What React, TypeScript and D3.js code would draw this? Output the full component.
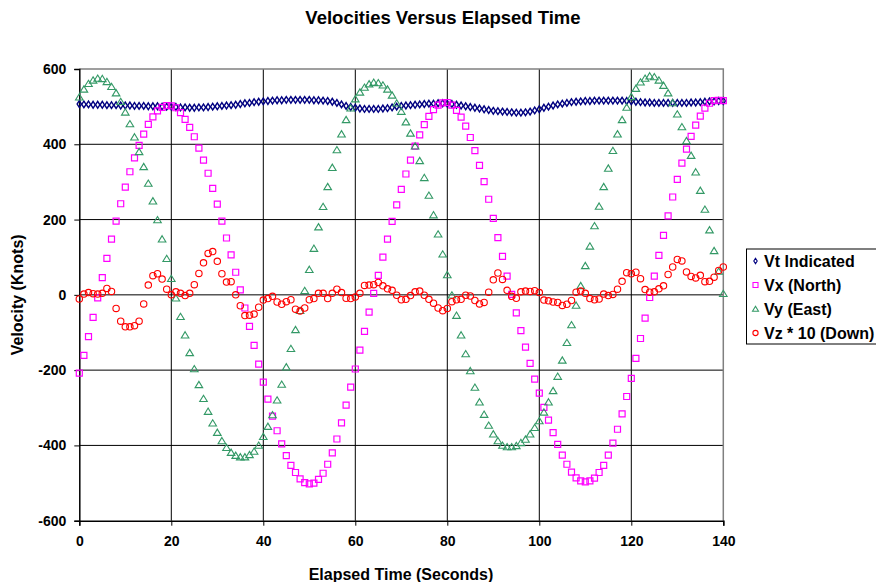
import { useRef, useEffect } from "react";
import * as d3 from "d3";

// elapsed time, one sample per second
const seconds: number[] = d3.range(0, 141);

const vtIndicated: number[] = [
  507, 506, 506, 505, 505, 505, 504, 504, 504, 503, 503,
  503, 502, 502, 502, 501, 501, 501, 500, 500, 500,
  499, 498, 498, 497, 497, 498, 498, 499, 500, 501,
  502, 503, 504, 505, 507, 509, 510, 512, 513, 514,
  515, 516, 517, 517, 518, 518, 518, 518, 518, 518,
  517, 517, 516, 515, 513, 510, 506, 502, 499, 497,
  495, 494, 494, 494, 494, 495, 496, 498, 500, 502,
  503, 504, 505, 506, 507, 508, 508, 509, 509, 508,
  507, 505, 503, 501, 499, 497, 495, 493, 491, 489,
  488, 487, 486, 485, 484, 484, 485, 487, 490, 493,
  497, 500, 503, 506, 508, 510, 512, 513, 514, 515,
  515, 516, 516, 516, 516, 516, 516, 516, 515, 514,
  513, 512, 511, 511, 510, 510, 510, 510, 510, 510,
  510, 510, 511, 511, 512, 513, 514, 514, 515, 515,
];

const vxNorth: number[] = [
  -208, -161, -111, -60, -8, 46, 97, 148, 196, 242,
  286, 327, 364, 397, 427, 453, 473, 489, 498, 503,
  502, 497, 484, 466, 445, 420, 390, 358, 323, 283,
  241, 196, 151, 106, 60, 13, -35, -84, -134, -184,
  -232, -277, -322, -361, -396, -427, -453, -472, -489, -499,
  -502, -500, -490, -474, -450, -420, -383, -340, -293, -245,
  -197, -147, -97, -46, 4, 52, 100, 148, 195, 239,
  280, 321, 358, 395, 425, 452, 474, 492, 504, 510,
  511, 504, 490, 472, 448, 418, 383, 344, 301, 254,
  203, 152, 102, 50, 1, -48, -95, -139, -182, -224,
  -261, -299, -333, -366, -397, -426, -450, -471, -486, -494,
  -497, -494, -487, -472, -453, -426, -394, -357, -316, -270,
  -222, -169, -116, -62, -7, 50, 105, 158, 210, 260,
  307, 350, 387, 421, 451, 475, 496, 509, 516, 517,
  516,
];

const vyEast: number[] = [
  525, 546, 561, 570, 575, 574, 566, 553, 536, 513,
  485, 454, 419, 380, 340, 296, 249, 199, 148, 96,
  43, -9, -58, -107, -154, -197, -239, -276, -310, -341,
  -366, -388, -406, -419, -427, -431, -431, -425, -416, -400,
  -377, -350, -319, -280, -238, -192, -143, -93, -42, 11,
  67, 123, 180, 234, 287, 338, 385, 427, 465, 496,
  520, 538, 551, 560, 564, 563, 557, 546, 530, 509,
  487, 459, 429, 395, 356, 311, 264, 212, 161, 108,
  53, -1, -55, -107, -157, -202, -246, -285, -318, -347,
  -370, -388, -400, -404, -404, -401, -393, -384, -370, -353,
  -335, -312, -285, -255, -217, -174, -127, -80, -28, 24,
  77, 129, 183, 235, 287, 336, 383, 427, 465, 498,
  526, 548, 565, 575, 581, 579, 570, 556, 536, 510,
  480, 446, 409, 370, 326, 277, 227, 172, 117, 62,
  3,
];

const vzDownX10: number[] = [
  -11, 2, 6, 3, 2, 4, 17, 9, -36, -70,
  -85, -85, -82, -70, -24, 26, 51, 56, 42, 15,
  0, 8, 4, -2, 4, 27, 57, 85, 110, 115,
  89, 56, 34, 35, 0, -29, -55, -54, -51, -33,
  -14, -10, -4, -19, -25, -18, -13, -38, -43, -35,
  -13, -10, 4, 4, -10, 4, 15, 6, -9, -10,
  -6, 4, 25, 26, 27, 33, 24, 16, 12, -1,
  -13, -12, -2, 8, 10, -1, -12, -22, -35, -42,
  -36, -18, -13, -12, -1, -3, -15, -24, -20, 7,
  40, 58, 41, 12, -4, -9, 8, 10, 9, 11,
  6, -14, -16, -19, -20, -28, -25, -15, 7, 10,
  4, -10, -13, -11, 2, -2, 1, 15, 36, 59,
  56, 60, 43, 14, 7, 8, 16, 24, 54, 74,
  94, 90, 61, 49, 45, 52, 35, 36, 47, 65,
  74,
];

const xTicks: number[] = [0, 20, 40, 60, 80, 100, 120, 140];
const yTicks: number[] = [-600, -400, -200, 0, 200, 400, 600];
const seriesNames: string[] = ["Vt Indicated", "Vx (North)", "Vy (East)", "Vz * 10 (Down)"];

const WIDTH = 876;
const HEIGHT = 582;
const FONT = "'Liberation Sans', Arial, Helvetica, sans-serif";

// marker shapes
const diamond = (s: number) => `M0,${-s * 1.4}L${s * 0.9},0L0,${s * 1.4}L${-s * 0.9},0Z`;
const square = (s: number) => `M${-s},${-s}H${s}V${s}H${-s}Z`;
const triangle = (s: number) => `M0,${-s * 1.05}L${s * 1.15},${s * 0.85}L${-s * 1.15},${s * 0.85}Z`;
const circle = (r: number) => `M${r},0A${r},${r} 0 1,1 ${-r},0A${r},${r} 0 1,1 ${r},0Z`;

export default function App() {
  const svgRef = useRef<SVGSVGElement | null>(null);

  useEffect(() => {
    const svg = d3.select(svgRef.current);
    svg.selectAll("*").remove();

    const margin = { top: 69, right: 152.7, bottom: 61.3, left: 79.3 };
    const x = d3.scaleLinear().domain([0, 140]).range([margin.left, WIDTH - margin.right]);
    const y = d3.scaleLinear().domain([-600, 600]).range([HEIGHT - margin.bottom, margin.top]);

    svg.append("rect").attr("width", WIDTH).attr("height", HEIGHT).attr("fill", "#fff");

    // gridlines
    const grid = svg.append("g").attr("stroke", "#000").attr("stroke-width", 1);
    grid.selectAll("line.h")
      .data(yTicks.filter((d) => d !== 600 && d !== -600))
      .join("line")
      .attr("x1", x(0)).attr("x2", x(140))
      .attr("y1", (d) => y(d)).attr("y2", (d) => y(d));
    grid.selectAll("line.v")
      .data(xTicks.filter((d) => d !== 0 && d !== 140))
      .join("line")
      .attr("y1", y(600)).attr("y2", y(-600))
      .attr("x1", (d) => x(d)).attr("x2", (d) => x(d));

    // plot area border (grey top/right)
    svg.append("path")
      .attr("d", `M${x(0)},${y(600)}H${x(140)}V${y(-600)}`)
      .attr("fill", "none")
      .attr("stroke", "#808080")
      .attr("stroke-width", 1.5);

    const tickText = (g: any) =>
      g.selectAll("text")
        .attr("font-family", FONT)
        .attr("font-weight", "bold")
        .attr("font-size", 14)
        .attr("fill", "#000");

    // axes
    svg.append("g")
      .attr("transform", `translate(0,${y(-600)})`)
      .call(d3.axisBottom(x).tickValues(xTicks).tickSize(5).tickPadding(10).tickFormat((d) => String(d)))
      .call((g) => g.select(".domain").attr("stroke", "#000").attr("stroke-width", 1.5))
      .call(tickText);

    svg.append("g")
      .attr("transform", `translate(${x(0)},0)`)
      .call(d3.axisLeft(y).tickValues(yTicks).tickSize(5).tickPadding(8).tickFormat((d) => String(d)))
      .call((g) => g.select(".domain").attr("stroke", "#000").attr("stroke-width", 1.5))
      .call(tickText);

    // series
    const series = [
      { values: vtIndicated, color: "#000080", shape: diamond(2.4), width: 1.4 },
      { values: vxNorth, color: "#FF00FF", shape: square(3), width: 1.2 },
      { values: vyEast, color: "#339966", shape: triangle(3.3), width: 1.1 },
      { values: vzDownX10, color: "#FF0000", shape: circle(3.2), width: 1.1 },
    ];

    series.forEach((s) => {
      svg.append("g")
        .selectAll("path")
        .data(seconds)
        .join("path")
        .attr("transform", (t, i) => `translate(${x(t)},${y(s.values[i])})`)
        .attr("d", s.shape)
        .attr("fill", "none")
        .attr("stroke", s.color)
        .attr("stroke-width", s.width);
    });

    // titles
    svg.append("text")
      .attr("x", 443).attr("y", 24)
      .attr("text-anchor", "middle")
      .attr("font-family", FONT).attr("font-weight", "bold").attr("font-size", 18.5)
      .text("Velocities Versus Elapsed Time");

    svg.append("text")
      .attr("x", 401).attr("y", 580)
      .attr("text-anchor", "middle")
      .attr("font-family", FONT).attr("font-weight", "bold").attr("font-size", 16)
      .text("Elapsed Time (Seconds)");

    svg.append("text")
      .attr("transform", `translate(23,${y(0)}) rotate(-90)`)
      .attr("text-anchor", "middle")
      .attr("font-family", FONT).attr("font-weight", "bold").attr("font-size", 16)
      .text("Velocity (Knots)");

    // legend
    const legend = svg.append("g").attr("transform", "translate(746.5,249)");
    legend.append("rect")
      .attr("width", 140).attr("height", 95)
      .attr("fill", "#fff").attr("stroke", "#000").attr("stroke-width", 1);
    const legendShapes = [diamond(1.9), square(2.5), triangle(2.6), circle(2.6)];
    seriesNames.forEach((name, i) => {
      const row = legend.append("g").attr("transform", `translate(0,${12 + i * 24})`);
      row.append("path")
        .attr("transform", "translate(9,0)")
        .attr("d", legendShapes[i])
        .attr("fill", "none")
        .attr("stroke", series[i].color)
        .attr("stroke-width", 1.1);
      row.append("text")
        .attr("x", 17.5).attr("y", 5.5)
        .attr("font-family", FONT).attr("font-weight", "bold").attr("font-size", 16)
        .text(name);
    });
  }, []);

  return (
    <svg
      ref={svgRef}
      width={WIDTH}
      height={HEIGHT}
      style={{ position: "absolute", left: 0, top: 0 }}
    />
  );
}
